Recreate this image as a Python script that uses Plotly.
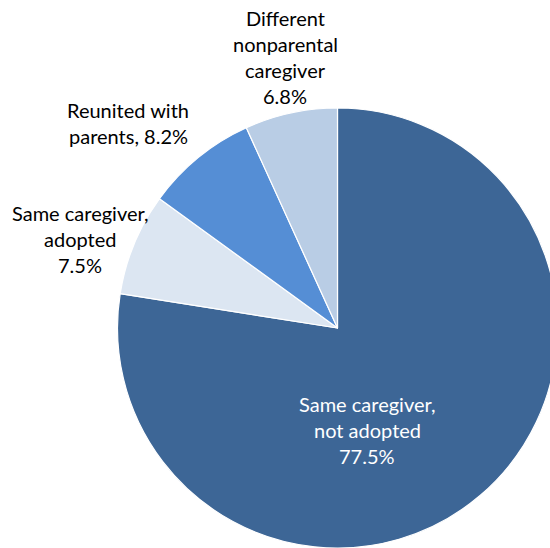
import plotly.graph_objects as go

categories = ["Same caregiver, not adopted", "Same caregiver, adopted",
              "Reunited with parents", "Different nonparental caregiver"]
values = [77.5, 7.5, 8.2, 6.8]
colors = ["#3D6696", "#DCE6F2", "#558ED5", "#B9CDE5"]
label_lines = [
    ["Same caregiver,", "not adopted", "77.5%"],
    ["Same caregiver,", "adopted", "7.5%"],
    ["Reunited with", "parents, 8.2%"],
    ["Different", "nonparental", "caregiver", "6.8%"],
]
label_colors = ["white", "black", "black", "black"]
# label block anchor (x center, y of first line) in pixels
label_pos = [(367, 404), (80, 213), (128, 110), (285, 18)]

W, H = 558, 548
ML, MR, MT, MB = 117, 0, 108, 0
PW, PH = W - ML - MR, H - MT - MB

fig = go.Figure(go.Pie(
    labels=categories, values=values, sort=False, direction="clockwise",
    rotation=0, marker=dict(colors=colors, line=dict(color="white", width=1.2)),
    textinfo="none", hoverinfo="label+percent", showlegend=False,
))

FONT = "Lato"
FS = 20
LS = 26
for lines, col, (x0, y0) in zip(label_lines, label_colors, label_pos):
    for i, ln in enumerate(lines):
        px, py = x0, y0 + i * LS
        fig.add_annotation(
            x=(px - ML) / PW, y=(H - MB - py) / PH, xref="paper", yref="paper",
            text=ln, showarrow=False, xanchor="center", yanchor="middle",
            font=dict(family=FONT, size=FS, color=col),
        )

fig.update_layout(
    width=W, height=H,
    margin=dict(l=ML, r=MR, t=MT, b=MB),
    paper_bgcolor="white", plot_bgcolor="white",
)

fig.write_html("out.html", config={"displayModeBar": False},
               post_script="document.body.style.margin='0';document.body.style.overflow='hidden';")
